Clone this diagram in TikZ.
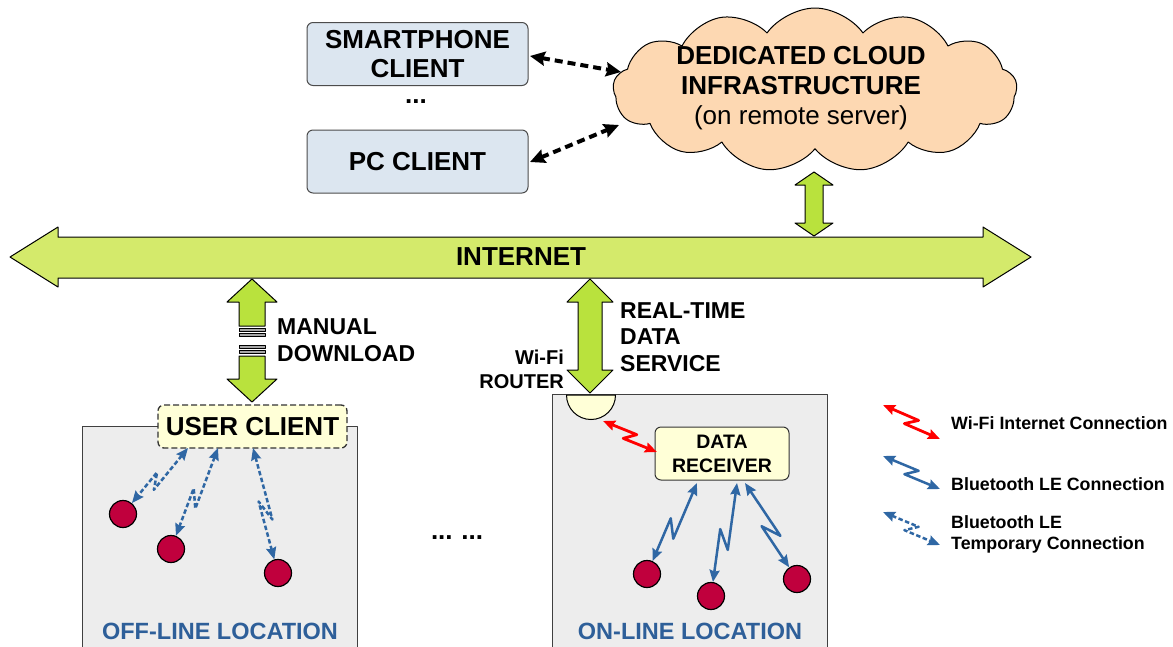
\documentclass[tikz,border=0pt]{standalone}
\usepackage{fontspec}
\setmainfont{Liberation Sans}
\usetikzlibrary{arrows.meta,calc,shapes.symbols}
\definecolor{boxblue}{HTML}{DCE6F0}
\definecolor{cloudc}{HTML}{FDD8B2}
\definecolor{netgreen}{HTML}{D4EA6B}
\definecolor{arrgreen}{HTML}{B9E23D}
\definecolor{locgray}{HTML}{EDEDED}
\definecolor{ucyellow}{HTML}{FFFFD7}
\definecolor{dotred}{HTML}{C0003D}
\definecolor{btblue}{HTML}{2F67A4}
\definecolor{txtblue}{HTML}{2E5F99}
\definecolor{wifired}{HTML}{FF0000}
\tikzset{
  client/.style={draw=black!70, line width=1pt, fill=boxblue, rounded corners=6pt,
    minimum width=221pt, minimum height=63pt, align=center, inner sep=0pt,
    font=\fontsize{26}{29}\selectfont\bfseries},
  loc/.style={draw=black!75, line width=1pt, fill=locgray, anchor=north west, inner sep=0pt},
  loclabel/.style={text=txtblue, font=\fontsize{23.5}{26}\selectfont\bfseries},
  ucbox/.style={draw=black!80, line width=1.3pt, fill=ucyellow, rounded corners=6pt,
    inner sep=0pt, align=center},
  dot/.style={circle, draw=black, line width=1.2pt, fill=dotred, minimum size=27pt, inner sep=0pt},
  blk/.style={draw=black, line width=1pt, fill=arrgreen},
  zz/.style={to path={-- ($(\tikztostart)!0.58!(\tikztotarget)!#1!90:(\tikztotarget)$)
     -- ($(\tikztostart)!0.42!(\tikztotarget)!#1!-90:(\tikztotarget)$)
     -- (\tikztotarget) \tikztonodes}},
  zz/.default=6pt,
  tip/.style={{Stealth[length=12pt,width=10pt,inset=1.5pt]}-{Stealth[length=12pt,width=10pt,inset=1.5pt]}},
  bt/.style={draw=btblue, line width=2.5pt, tip},
  bttmp/.style={bt, dash pattern=on 4.5pt off 2.5pt},
  wifi/.style={draw=wifired, line width=2.8pt, tip},
  cloudlink/.style={draw=black, line width=4pt, dash pattern=on 8pt off 5pt,
    {Stealth[length=15pt,width=14pt,inset=2pt]}-{Stealth[length=15pt,width=14pt,inset=2pt]}},
  lbl/.style={font=\fontsize{23}{26.5}\selectfont\bfseries, align=left, inner sep=0pt},
  leg/.style={font=\fontsize{17.8}{21}\selectfont\bfseries, align=left, inner sep=0pt, anchor=west},
}
\begin{document}
\begin{tikzpicture}[x=1pt, y=-1pt, line join=round]
\clip (0,0) rectangle (1173,646);
\fill[white] (0,0) rectangle (1173,646);

% clients
\node[client] (sp) at (417.5,54) {SMARTPHONE\\CLIENT};
\node[font=\fontsize{26}{29}\selectfont\bfseries] (dots1) at (416,102) {...};
\node[client] (pc) at (417.5,161.5) {PC CLIENT};

% cloud
\node[cloud, cloud puffs=13, cloud puff arc=110, aspect=2.5, draw=black, line width=1pt,
  fill=cloudc, minimum width=404pt, minimum height=164pt, inner sep=0pt] (cloud) at (815,90) {};
\node[align=center, inner sep=0pt, font=\fontsize{26}{30}\selectfont] (cloudtxt) at (801,88)
  {\bfseries DEDICATED CLOUD\\\bfseries INFRASTRUCTURE\\(on remote server)};

\coordinate (spE) at (530,56);
\coordinate (clA) at (621,72);
\coordinate (pcE) at (530,162);
\coordinate (clB) at (619,125);
\draw[cloudlink] (spE) -- (clA);
\draw[cloudlink] (pcE) -- (clB);

% internet arrow
\draw[blk, fill=netgreen] (10,257) -- (58,227) -- (58,237) -- (983,237) -- (983,227)
  -- (1031,257) -- (983,287) -- (983,278) -- (58,278) -- (58,287) -- cycle;
\node[font=\fontsize{26}{29}\selectfont\bfseries] (internet) at (521,257) {INTERNET};

% cloud - internet arrow
\draw[blk] (814,172) -- (833,185) -- (823,185) -- (823,223) -- (833,223) -- (814,236)
  -- (795,223) -- (805,223) -- (805,185) -- (795,185) -- cycle;

% location boxes
\node[loc, minimum width=275pt, minimum height=240pt] (off) at (82,426) {};
\node[loc, minimum width=275pt, minimum height=270pt] (on) at (552,394) {};
\node[loclabel] (offlbl) at (220,631) {OFF-LINE LOCATION};
\node[loclabel] (onlbl) at (690,631) {ON-LINE LOCATION};

% manual download arrow
\draw[blk] (252,279) -- (277,302) -- (265,302) -- (265,326) -- (239,326) -- (239,302) -- (227,302) -- cycle;
\draw[blk, fill=black!35, line width=0.8pt] (239,328.3) rectangle (265,331.7);
\draw[blk, fill=black!35, line width=0.8pt] (239,333.3) rectangle (265,336.7);
\draw[blk, fill=black!35, line width=0.8pt] (239,345) rectangle (265,348.3);
\draw[blk, fill=black!35, line width=0.8pt] (239,350) rectangle (265,353.3);
\draw[blk] (239,356) -- (265,356) -- (265,379) -- (277,379) -- (252,402) -- (227,379) -- (239,379) -- cycle;
\node[lbl, anchor=west] (manual) at (277,340) {MANUAL\\DOWNLOAD};

% real-time arrow
\draw[blk] (590,279) -- (613,302) -- (602,302) -- (602,370) -- (613,370) -- (590,393)
  -- (567,370) -- (578,370) -- (578,302) -- (567,302) -- cycle;
\node[lbl, anchor=west] (rt) at (620,337) {REAL-TIME\\DATA\\SERVICE};
\node[font=\fontsize{20}{24}\selectfont\bfseries, align=right, inner sep=0pt, anchor=east]
  (routerlbl) at (564,369) {Wi-Fi\\ROUTER};

% router
\draw[line width=1pt, fill=ucyellow] (566.5,395) arc[start angle=180, end angle=0, radius=24.5] -- cycle;
\coordinate (router) at (603,421);

% user client and data receiver
\node[ucbox, dash pattern=on 6pt off 3pt, minimum width=189pt, minimum height=43pt,
  font=\fontsize{26}{29}\selectfont\bfseries] (uc) at (252.5,426.5) {USER CLIENT};
\node[ucbox, line width=1pt, minimum width=134pt, minimum height=53pt,
  font=\fontsize{19.5}{24}\selectfont\bfseries] (dr) at (722,453.5) {DATA\\RECEIVER};

% devices
\node[dot] (c1) at (123,514) {};
\node[dot] (c2) at (171,549) {};
\node[dot] (c3) at (278,573) {};
\node[dot] (c4) at (647,574) {};
\node[dot] (c5) at (711,596) {};
\node[dot] (c6) at (797,579) {};

\node[font=\fontsize{26}{29}\selectfont\bfseries] (dots2) at (457,538) {...\,\,...};

% offline temporary links
\coordinate (u1) at (188,448);
\coordinate (u2) at (218,448);
\coordinate (u3) at (253,448);
\draw[bttmp] (u1) to[zz=5pt] (c1);
\draw[bttmp] (u2) to[zz=5pt] (c2);
\draw[bttmp] (u3) to[zz=5pt] (c3);

% online links
\coordinate (d1) at (697,483);
\coordinate (d2) at (737,483);
\coordinate (d3) at (745,483);
\coordinate (drW) at (657,452);
\draw[wifi] (router) to[zz=5pt] (drW);
\draw[bt] (d1) to[zz] (c4);
\draw[bt] (d2) to[zz] (c5);
\draw[bt] (d3) to[zz] (c6);

% legend
\coordinate (l1a) at (883,405); \coordinate (l1b) at (940,439);
\coordinate (l2a) at (883,456); \coordinate (l2b) at (940,489);
\coordinate (l3a) at (883,512); \coordinate (l3b) at (940,545);
\draw[wifi] (l1a) to[zz=5pt] (l1b);
\draw[bt] (l2a) to[zz=5pt] (l2b);
\draw[bttmp] (l3a) to[zz=5pt] (l3b);
\node[leg] (leg1) at (951,423) {Wi-Fi Internet Connection};
\node[leg] (leg2) at (951,484) {Bluetooth LE Connection};
\node[leg] (leg3) at (951,534) {Bluetooth LE\\Temporary Connection};
\end{tikzpicture}
\end{document}
